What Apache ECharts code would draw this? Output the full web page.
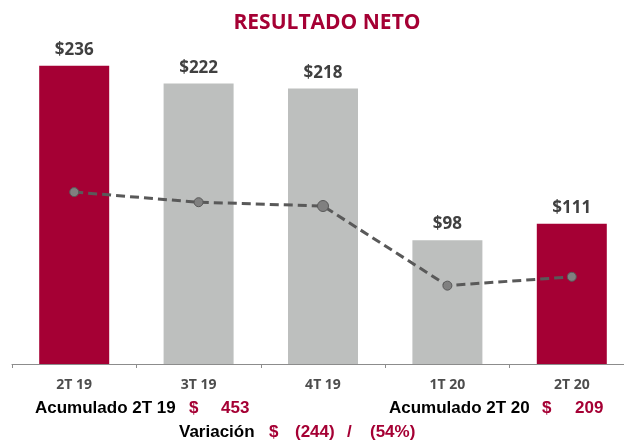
<!DOCTYPE html>
<html>
<head>
<meta charset="utf-8">
<script src="https://cdn.jsdelivr.net/npm/echarts@6/dist/echarts.min.js"></script>
<style>
  html, body { margin: 0; padding: 0; background: #fff; overflow: hidden; }
  /* el contenedor es algo mas ancho: el eje sigue mas alla del borde derecho */
  #chart { width: 640px; height: 441px; }
</style>
</head>
<body>
<div id="chart"></div>
<script>
// datos
const categorias = ['2T 19', '3T 19', '4T 19', '1T 20', '2T 20'];
const resultado = [236, 222, 218, 98, 111];
const margen = [13.6, 12.8, 12.5, 6.2, 6.9];   // linea punteada (eje oculto)
const destacados = [0, 4];                       // barras en rojo
const acum19 = 453;
const acum20 = 209;
const variacion = '(244)';
const variacionPct = '(54%)';

const ROJO = '#A50034';
const GRIS = '#BDBFBE';
const TEXTO = '#404040';

const chart = echarts.init(document.getElementById('chart'));

const barData = resultado.map((v, i) => ({
  value: v,
  itemStyle: { color: destacados.includes(i) ? ROJO : GRIS }
}));

const lineData = margen.map((v, i) => ({
  value: v,
  symbolSize: i === 2 ? 11 : 9
}));

// textos de la parte inferior
const txt = (x, y, text, color) => ({
  type: 'text',
  x: x,
  y: y,
  style: {
    text: text,
    fill: color,
    font: 'bold 17px "Liberation Sans", Arial, sans-serif',
    verticalAlign: 'middle'
  }
});

const option = {
  animation: false,
  title: {
    text: 'RESULTADO NETO',
    left: 322,
    textAlign: 'center',
    top: 8,
    textStyle: { color: ROJO, fontSize: 21, fontWeight: 'bold', fontFamily: 'Open Sans' }
  },
  grid: { left: 12, width: 622, top: 48, bottom: 77 },
  xAxis: {
    type: 'category',
    data: categorias,
    axisLine: { lineStyle: { color: '#8c8c8c', width: 1 } },
    axisTick: { show: true, length: 4, lineStyle: { color: '#8c8c8c' } },
    axisLabel: { color: '#4d4d4d', fontSize: 14, fontWeight: 'bold', fontFamily: 'Open Sans', margin: 14 }
  },
  yAxis: [
    { type: 'value', min: 0, max: 250, show: false, splitLine: { show: false } },
    { type: 'value', min: 0, max: 25, show: false, splitLine: { show: false } }
  ],
  series: [
    {
      type: 'bar',
      data: barData,
      barWidth: 70,
      label: {
        show: true,
        position: 'top',
        distance: 7,
        formatter: p => '$' + p.value,
        color: TEXTO,
        fontSize: 17,
        fontWeight: 'bold',
        fontFamily: 'Open Sans'
      }
    },
    {
      type: 'line',
      yAxisIndex: 1,
      data: lineData,
      symbol: 'circle',
      itemStyle: { color: '#808080', borderColor: '#595959', borderWidth: 1 },
      lineStyle: { color: '#595959', width: 3, type: [9, 5] },
      z: 3
    }
  ],
  graphic: [
    txt(35, 408, 'Acumulado 2T 19', '#000'),
    txt(189, 408, '$', ROJO),
    txt(221, 408, String(acum19), ROJO),
    txt(389, 408, 'Acumulado 2T 20', '#000'),
    txt(542, 408, '$', ROJO),
    txt(575, 408, String(acum20), ROJO),
    txt(179, 432, 'Variación', '#000'),
    txt(269, 432, '$', ROJO),
    txt(295, 432, variacion, ROJO),
    txt(347, 432, '/', ROJO),
    txt(370, 432, variacionPct, ROJO)
  ]
};

chart.setOption(option);
</script>
</body>
</html>
